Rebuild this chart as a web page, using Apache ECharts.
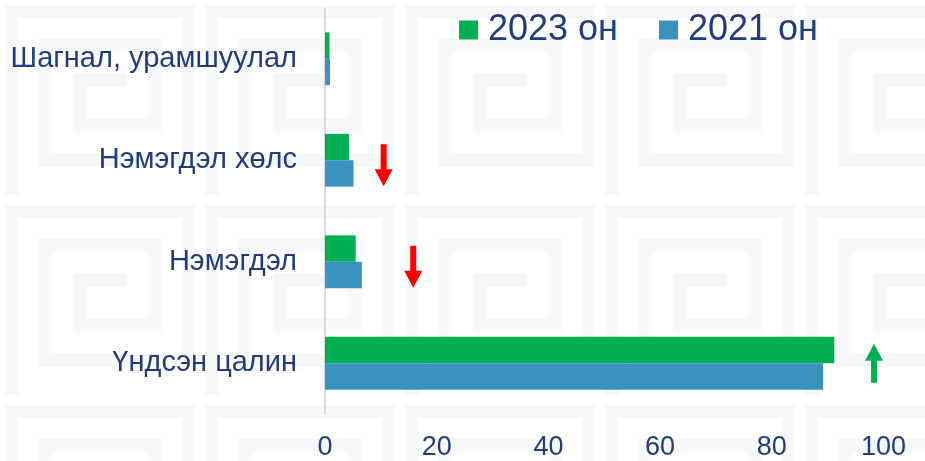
<!DOCTYPE html>
<html>
<head>
<meta charset="utf-8">
<script src="https://cdn.jsdelivr.net/npm/echarts@6/dist/echarts.min.js"></script>
<style>
  html, body { margin: 0; padding: 0; background: #ffffff; }
  #chart { width: 925px; height: 461px; }
</style>
</head>
<body>
<div id="chart"></div>
<script>
// Salary structure, share of total (%)
const categories = ['Шагнал, урамшуулал', 'Нэмэгдэл хөлс', 'Нэмэгдэл', 'Үндсэн цалин'];
const values2023 = [0.8, 4.3, 5.5, 91.2];
const values2021 = [0.9, 5.1, 6.6, 89.2];
const xTicks = { min: 0, max: 100, interval: 20 };

// Change markers placed beside the groups
const downArrows = [[10.5, 'Нэмэгдэл хөлс'], [15.8, 'Нэмэгдэл']];
const upArrows = [[98.3, 'Үндсэн цалин']];

const textColor = '#1F3D7C';
const font = 'Liberation Sans, Arial, sans-serif';

const arrowDown = 'path://M6,0 L12,0 L12,25 L18,25 L9,42 L0,25 L6,25 Z';
const arrowUp = 'path://M9,0 L18,17 L12,17 L12,39 L6,39 L6,17 L0,17 Z';

// Faint key-pattern tile used as the page background
function keyPatternTile() {
  const s = 200;
  const c = document.createElement('canvas');
  c.width = s; c.height = s;
  const g = c.getContext('2d');
  g.fillStyle = '#ffffff';
  g.fillRect(0, 0, s, s);
  g.strokeStyle = '#F6F7F9';
  g.lineWidth = 13;
  g.lineCap = 'square';
  g.beginPath();
  g.moveTo(12, 188); g.lineTo(12, 12); g.lineTo(188, 12); g.lineTo(188, 160);
  g.lineTo(45, 160); g.lineTo(45, 45); g.lineTo(155, 45); g.lineTo(155, 125);
  g.lineTo(80, 125); g.lineTo(80, 80); g.lineTo(120, 80);
  g.stroke();
  return c;
}

const chart = echarts.init(document.getElementById('chart'), null, { renderer: 'canvas' });
chart.setOption({
  backgroundColor: { image: keyPatternTile(), repeat: 'repeat' },
  animation: false,
  grid: { left: 325, right: 41.5, top: 8, bottom: 47, containLabel: false },
  legend: {
    data: ['2023 он', '2021 он'],
    left: 459,
    top: 12,
    padding: 0,
    itemWidth: 19,
    itemHeight: 19,
    itemGap: 41,
    icon: 'rect',
    textStyle: { color: textColor, fontSize: 36, fontFamily: font, padding: [0, 0, 0, 5] }
  },
  xAxis: {
    type: 'value',
    min: xTicks.min,
    max: xTicks.max,
    interval: xTicks.interval,
    axisLine: { show: false },
    axisTick: { show: false },
    splitLine: { show: false },
    axisLabel: { color: textColor, fontSize: 27, fontFamily: font, margin: 20 }
  },
  yAxis: {
    type: 'category',
    inverse: true,
    data: categories,
    axisLine: { show: true, lineStyle: { color: '#D9D9D9', width: 2 } },
    axisTick: { show: false },
    axisLabel: { color: textColor, fontSize: 29, fontFamily: font, margin: 28 }
  },
  series: [
    {
      name: '2023 он',
      type: 'bar',
      data: values2023,
      itemStyle: { color: '#00B050' },
      barGap: '0%',
      barCategoryGap: '48%'
    },
    {
      name: '2021 он',
      type: 'bar',
      data: values2021,
      itemStyle: { color: '#3A93BD' },
      barGap: '0%',
      barCategoryGap: '48%'
    },
    {
      name: 'down',
      type: 'scatter',
      data: downArrows,
      symbol: arrowDown,
      symbolSize: [18, 42],
      symbolOffset: [0, 5],
      itemStyle: { color: '#FF0000', opacity: 1 },
      silent: true
    },
    {
      name: 'up',
      type: 'scatter',
      data: upArrows,
      symbol: arrowUp,
      symbolSize: [18, 39],
      itemStyle: { color: '#00B050', opacity: 1 },
      silent: true
    }
  ]
});
</script>
</body>
</html>
